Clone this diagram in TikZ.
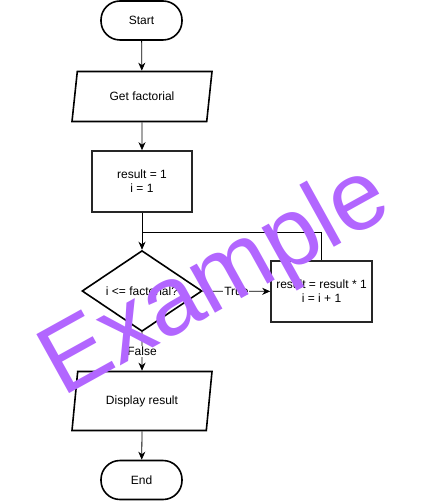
\documentclass[tikz,border=0pt]{standalone}
\usepackage{fontspec}
\setmainfont{Liberation Sans}
\usetikzlibrary{shapes.geometric,arrows.meta}
\definecolor{wm}{HTML}{B266FF}
\tikzset{
  base/.style={draw=black, line width=1.6pt, inner sep=0pt, align=center, font=\fontsize{12}{14}\selectfont},
  term/.style={base, rectangle, rounded corners=19pt, minimum width=81pt, minimum height=39pt},
  io/.style={base, trapezium, trapezium stretches body, minimum height=#1},
  proc/.style={base, rectangle, draw=black!85, minimum width=100pt, minimum height=61pt},
  dec/.style={base, diamond, minimum width=120pt, minimum height=80pt},
  conn/.style={line width=0.8pt, -{Stealth[length=8pt,width=7pt,inset=2.5pt]}},
  plainconn/.style={line width=0.8pt},
  lbl/.style={fill=white, inner sep=1pt, font=\fontsize{12}{14}\selectfont},
}
\begin{document}
\begin{tikzpicture}[x=1pt,y=-1pt]
\useasboundingbox (0,0) rectangle (433,502);
\node[term] (start) at (141.5,20.5) {Start};
\node[io=50pt, trapezium left angle=59, trapezium right angle=121, minimum width=140pt] (get) at (142,96.5) {Get factorial};
\node[proc] (init) at (142,181.5) {result = 1\\i = 1};
\node[dec] (cond) at (142,291) {i <= factorial?};
\node[proc, minimum width=101pt] (upd) at (321.5,291.5) {result = result * 1\\i = i + 1};
\node[io=59pt, trapezium left angle=63, trapezium right angle=117, minimum width=140pt] (disp) at (142,401) {Display result};
\node[term] (end) at (141.5,480) {End};
\coordinate (join) at (142,232);
\draw[conn] (start) -- (get);
\draw[conn] (get.south) -- (init.north);
\draw[conn] (init) -- (cond);
\draw[plainconn] (upd.north) |- (join);
\draw[conn] (cond) -- node[lbl] (tlab) {True} (upd);
\draw[conn] (cond) -- node[lbl, pos=0.5] (flab) {False} (disp.north);
\draw[conn] (disp.south) -- (end);
\node[anchor=base west, rotate=29, text=wm, inner sep=0pt, font=\fontsize{98}{98}\selectfont] (wmark) at (62,398) {Example};
\end{tikzpicture}
\end{document}
